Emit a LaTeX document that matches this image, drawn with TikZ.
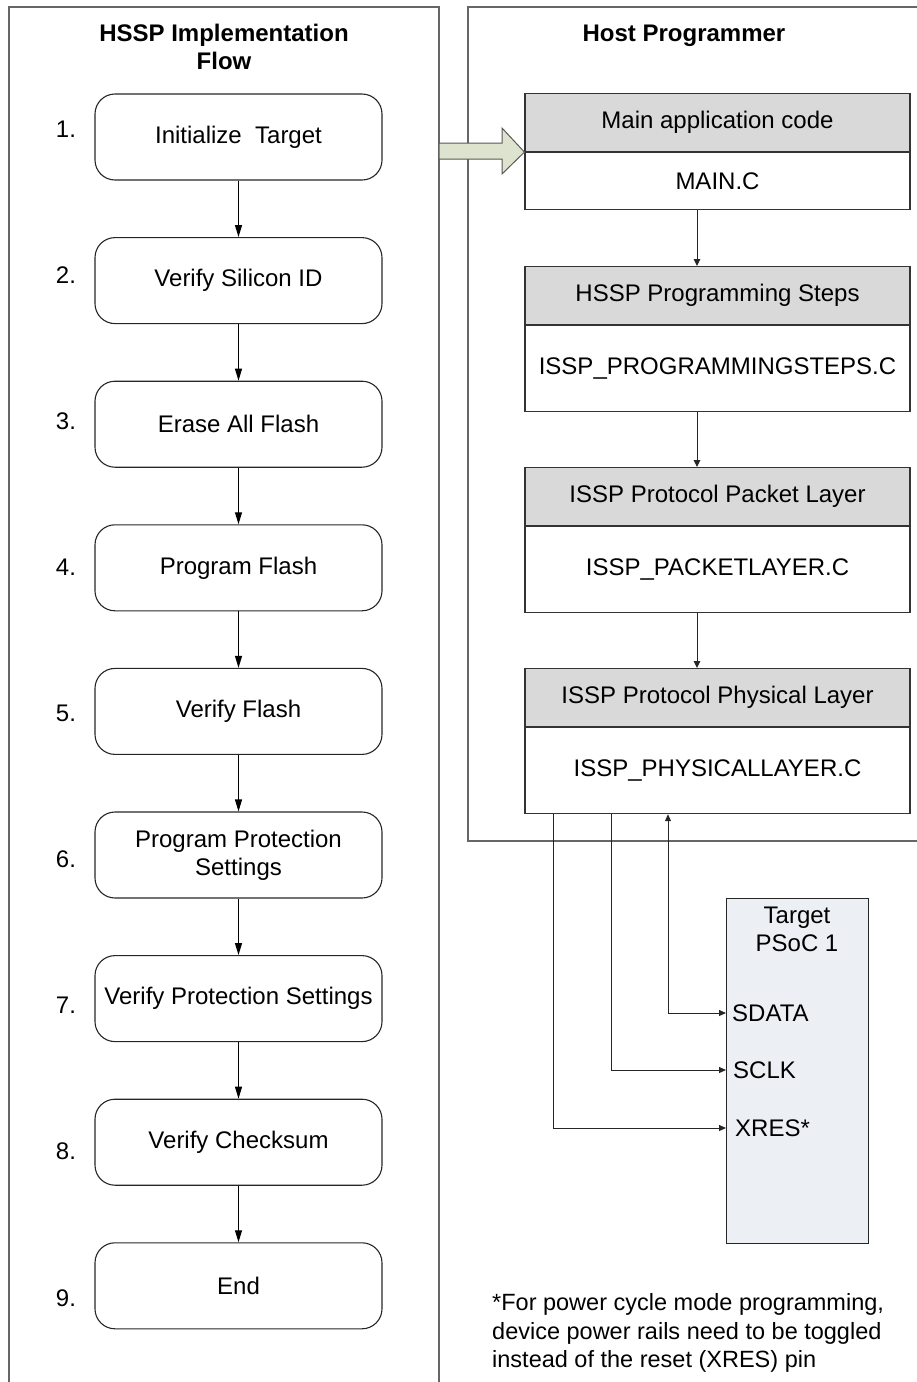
\documentclass[tikz,border=0pt]{standalone}
\usepackage{fontspec}
\setmainfont{Liberation Sans}
\usetikzlibrary{arrows.meta}
\definecolor{headgray}{RGB}{217,217,217}
\definecolor{targetfill}{RGB}{236,239,244}
\definecolor{arrowgreen}{RGB}{221,227,206}
\begin{document}
\begin{tikzpicture}[x=1pt,y=-1pt,
  font=\fontsize{24}{28}\selectfont,
  flowbox/.style={draw=black!85, line width=1.1pt, rounded corners=20pt,
    minimum width=287pt, minimum height=86pt, align=center, inner sep=2pt},
  headbox/.style={draw=black!80, line width=1.1pt, fill=headgray,
    minimum width=385pt, minimum height=58pt, anchor=north, inner sep=0pt},
  bodybox/.style={draw=black!80, line width=1.1pt, fill=white,
    minimum width=385pt, anchor=north, inner sep=0pt},
  flowarrow/.style={draw=black, line width=1.1pt, -{Triangle[length=12pt,width=7pt]}},
  linkarrow/.style={draw=black!85, line width=1pt, -{Triangle[length=7pt,width=6.5pt]}},
  pinarrow/.style={draw=black!85, line width=1pt, -{Triangle[length=7pt,width=6pt]}},
  panel/.style={draw=black!60, line width=1.2pt},
  titletext/.style={font=\fontsize{24}{28}\selectfont\bfseries, align=center},
  steplabel/.style={inner sep=0pt},
]
\useasboundingbox (0,0) rectangle (917,1382);

% --- outer panels ---
\draw[panel] (9,1382) -- (9,7) -- (439,7) -- (439,1382);
\draw[panel] (917,7) -- (468,7) -- (468,841) -- (917,841);

\node[titletext] (lefttitle) at (224,47) {HSSP Implementation\\Flow};
\node[titletext] (righttitle) at (684,36) {Host Programmer};

% --- implementation flow ---
\node[flowbox] (s1) at (238.5,137.0) {Initialize\ \ Target};
\node[flowbox] (s2) at (238.5,280.6) {Verify Silicon ID};
\node[flowbox] (s3) at (238.5,424.2) {Erase All Flash};
\node[flowbox] (s4) at (238.5,567.8) {Program Flash};
\node[flowbox] (s5) at (238.5,711.4) {Verify Flash};
\node[flowbox] (s6) at (238.5,855.0) {Program Protection\\Settings};
\node[flowbox] (s7) at (238.5,998.6) {Verify Protection Settings};
\node[flowbox] (s8) at (238.5,1142.2) {Verify Checksum};
\node[flowbox] (s9) at (238.5,1285.8) {End};

\node[steplabel] (n1) at (66,129.0) {1.};
\node[steplabel] (n2) at (66,275.1) {2.};
\node[steplabel] (n3) at (66,421.2) {3.};
\node[steplabel] (n4) at (66,567.3) {4.};
\node[steplabel] (n5) at (66,713.4) {5.};
\node[steplabel] (n6) at (66,859.5) {6.};
\node[steplabel] (n7) at (66,1005.6) {7.};
\node[steplabel] (n8) at (66,1151.7) {8.};
\node[steplabel] (n9) at (66,1297.8) {9.};

\draw[flowarrow] (s1) -- (s2);
\draw[flowarrow] (s2) -- (s3);
\draw[flowarrow] (s3) -- (s4);
\draw[flowarrow] (s4) -- (s5);
\draw[flowarrow] (s5) -- (s6);
\draw[flowarrow] (s6) -- (s7);
\draw[flowarrow] (s7) -- (s8);
\draw[flowarrow] (s8) -- (s9);

% --- host programmer layers ---
\node[headbox] (h1) at (717.5,93) {Main application code};
\node[bodybox, minimum height=57pt] (b1) at (h1.south) {MAIN.C};
\node[headbox] (h2) at (717.5,266) {HSSP Programming Steps};
\node[bodybox, minimum height=86pt] (b2) at (h2.south) {ISSP\_PROGRAMMINGSTEPS.C};
\node[headbox] (h3) at (717.5,467) {ISSP Protocol Packet Layer};
\node[bodybox, minimum height=86pt] (b3) at (h3.south) {ISSP\_PACKETLAYER.C};
\node[headbox] (h4) at (717.5,668) {ISSP Protocol Physical Layer};
\node[bodybox, minimum height=86pt] (b4) at (h4.south) {ISSP\_PHYSICALLAYER.C};

\coordinate (cx) at (697,0);
\draw[linkarrow] (b1.south -| cx) -- (h2.north -| cx);
\draw[linkarrow] (b2.south -| cx) -- (h3.north -| cx);
\draw[linkarrow] (b3.south -| cx) -- (h4.north -| cx);

% block arrow from the flow panel into the host code
\draw[fill=arrowgreen, draw=black!65, line width=1pt]
  (439,143) -- (502,143) -- (502,128) -- (h1.south west)
  -- (502,174) -- (502,159) -- (439,159) -- cycle;

% --- target device ---
\node[draw=black!85, line width=1.1pt, fill=targetfill, anchor=north west,
  minimum width=142pt, minimum height=345pt, inner sep=0pt] (target) at (726,898) {};
\node[align=center, inner sep=0pt] (tgtname) at (797,929) {Target\\PSoC 1};
\node[anchor=west, inner sep=0pt] (sdata) at (732,1013) {SDATA};
\node[anchor=west, inner sep=0pt] (sclk) at (733,1070) {SCLK};
\node[anchor=west, inner sep=0pt] (xres) at (735,1128) {XRES*};

\coordinate (xx) at (553,0);
\coordinate (xc) at (611,0);
\coordinate (xd) at (668,0);
\draw[pinarrow, {Triangle[length=7pt,width=6pt]}-{Triangle[length=7pt,width=6pt]}]
  (b4.south -| xd) |- (target.west |- sdata.west);
\draw[pinarrow] (b4.south -| xc) |- (target.west |- sclk.west);
\draw[pinarrow] (b4.south -| xx) |- (target.west |- xres.west);

% --- footnote ---
\node[anchor=west, align=left, inner sep=0pt, font=\fontsize{23.5}{28.5}\selectfont]
  (note) at (492,1333) {*For power cycle mode programming,\\device power rails need to be toggled\\instead of the reset (XRES) pin};
\end{tikzpicture}
\end{document}
